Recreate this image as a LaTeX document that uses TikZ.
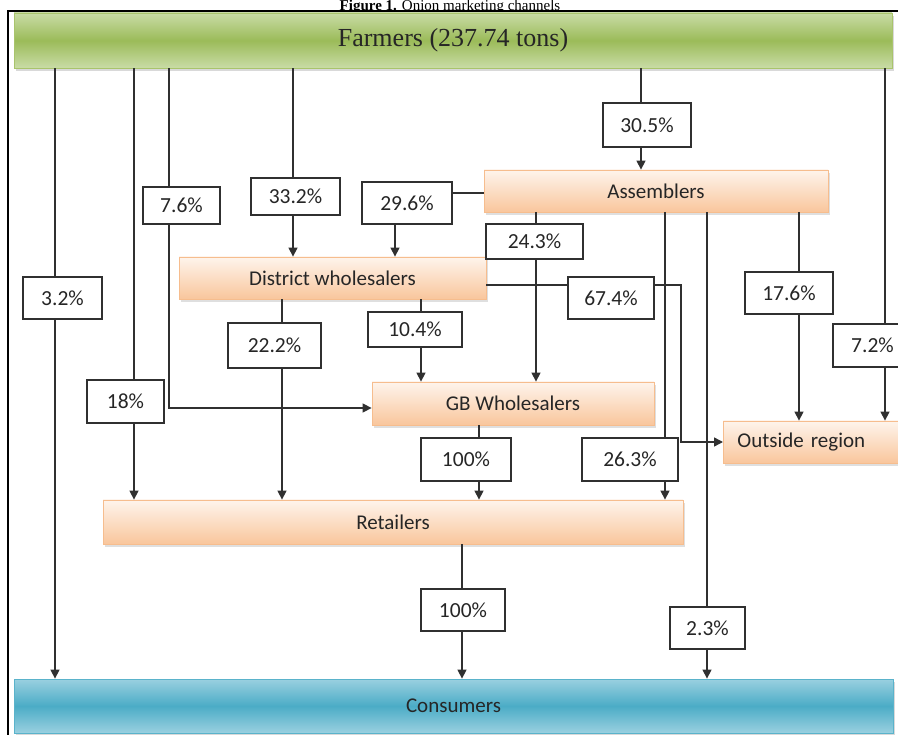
\documentclass[tikz,border=0pt]{standalone}
\usepackage{fontspec}
\setmainfont{Carlito}
\newfontfamily\serifx{Liberation Serif}
\usetikzlibrary{arrows.meta,shadows}
\definecolor{lineC}{HTML}{303030}
\definecolor{orTop}{HTML}{FEF4EC}
\definecolor{orBot}{HTML}{F9C69C}
\definecolor{orBrd}{HTML}{F6BD8E}
\definecolor{grMid}{HTML}{9BBB59}
\definecolor{grEdge}{HTML}{C9DCA6}
\definecolor{grBrd}{HTML}{A9C46C}
\definecolor{blMid}{HTML}{4BACC6}
\definecolor{blEdge}{HTML}{9AD0E0}
\definecolor{blBrd}{HTML}{5AB3CB}
\definecolor{txt}{HTML}{262626}
\tikzset{
  pct/.style={draw=lineC, line width=1.4pt, fill=white, inner sep=0pt,
    font=\fontsize{21.5}{24}\selectfont, text=txt},
  stage/.style={draw=orBrd, line width=0.8pt, top color=orTop, bottom color=orBot,
    inner sep=0pt, font=\fontsize{21}{24}\selectfont, text=txt,
    drop shadow={shadow xshift=2pt, shadow yshift=-3pt, opacity=0.25}},
  conn/.style={draw=lineC, line width=1.4pt},
  arr/.style={conn, -{Triangle[width=9pt,length=9pt]}},
}
\begin{document}
\begin{tikzpicture}[x=1pt,y=-1pt]
\useasboundingbox (0,0) rectangle (898,735);
% frame and caption
\draw[line width=2pt, black] (8,740) -- (8,11.5) -- (900,11.5);
\node[font=\serifx\fontsize{15}{17}\selectfont, anchor=base, text=black, inner sep=0pt] (cap) at (450,10.5) {\textbf{Figure 1.} Onion marketing channels};

% main stages
\node[draw=grBrd, line width=0.8pt, top color=grEdge, bottom color=grEdge, middle color=grMid,
      minimum width=878pt, minimum height=55pt, inner sep=0pt,
      drop shadow={shadow xshift=2pt, shadow yshift=-3pt, opacity=0.3},
      font=\serifx\fontsize{26}{30}\selectfont, text=txt] (F) at (453,40.5) {Farmers (237.74 tons)};
\node[stage, minimum width=344pt, minimum height=42pt] (A) at (656,191) {Assemblers};
\node[stage, minimum width=307pt, minimum height=42pt] (D) at (332.5,278) {District wholesalers};
\node[stage, minimum width=282pt, minimum height=43pt] (G) at (513,403.5) {GB Wholesalers};
\node[stage, anchor=west, text width=170pt, align=left, inner xsep=14pt, minimum height=42pt] (O) at (723,442) {Outside region};
\node[stage, minimum width=580pt, minimum height=44pt] (R) at (393,522) {Retailers};
\node[draw=blBrd, line width=0.8pt, top color=blEdge, bottom color=blEdge, middle color=blMid,
      minimum width=879pt, minimum height=54pt, inner sep=0pt,
      drop shadow={shadow xshift=2pt, shadow yshift=-3pt, opacity=0.3},
      font=\fontsize{21}{24}\selectfont, text=txt] (C) at (453.5,706) {Consumers};

% percentage boxes
\node[pct, minimum width=79pt, minimum height=42pt] (l32) at (62.5,298) {3.2\%};
\node[pct, minimum width=77pt, minimum height=43pt] (l18) at (125.5,401.5) {18\%};
\node[pct, minimum width=77pt, minimum height=37pt] (l76) at (181.5,205.5) {7.6\%};
\node[pct, minimum width=89pt, minimum height=37pt] (l332) at (295.5,196.5) {33.2\%};
\node[pct, minimum width=88pt, minimum height=44pt] (l305) at (647,125) {30.5\%};
\node[pct, minimum width=79pt, minimum height=43pt] (l72) at (872.5,345.5) {7.2\%};
\node[pct, minimum width=90pt, minimum height=42pt] (l296) at (407,203) {29.6\%};
\node[pct, minimum width=97pt, minimum height=35pt] (l243) at (534.5,241.5) {24.3\%};
\node[pct, minimum width=96pt, minimum height=43pt] (l263) at (630,459.5) {26.3\%};
\node[pct, minimum width=75pt, minimum height=42pt] (l23) at (707.5,628) {2.3\%};
\node[pct, minimum width=88pt, minimum height=42pt] (l176) at (789,293) {17.6\%};
\node[pct, minimum width=86pt, minimum height=42pt] (l674) at (611,298) {67.4\%};
\node[pct, minimum width=93pt, minimum height=45pt] (l222) at (274.5,345.5) {22.2\%};
\node[pct, minimum width=94pt, minimum height=35pt] (l104) at (415,329.5) {10.4\%};
\node[pct, minimum width=90pt, minimum height=43pt] (l100a) at (466,459.5) {100\%};
\node[pct, minimum width=84pt, minimum height=42pt] (l100b) at (463,610) {100\%};

% line positions
\coordinate (x55) at (55,0);
\coordinate (x134) at (134,0);
\coordinate (x169) at (169,0);
\coordinate (x293) at (293,0);
\coordinate (x641) at (641,0);
\coordinate (x885) at (885,0);
\coordinate (x395) at (395,0);
\coordinate (x536) at (536,0);
\coordinate (x665) at (665,0);
\coordinate (x707) at (707,0);
\coordinate (x799) at (799,0);
\coordinate (x282) at (282,0);
\coordinate (x421) at (421,0);
\coordinate (x479) at (479,0);
\coordinate (x462) at (462,0);
\coordinate (h193) at (0,193);
\coordinate (h285) at (0,285);
\coordinate (k76) at (169,408);
\coordinate (k1) at (681,285);
\coordinate (k2) at (681,442);

% farmers
\draw[conn] (F.south -| x55) -- (l32.north -| x55);
\draw[arr] (l32.south -| x55) -- (C.north -| x55);
\draw[conn] (F.south -| x134) -- (l18.north -| x134);
\draw[arr] (l18.south -| x134) -- (R.north -| x134);
\draw[conn] (F.south -| x169) -- (l76.north -| x169);
\draw[arr] (l76.south -| x169) -- (k76) -- (G.west |- k76);
\draw[conn] (F.south -| x293) -- (l332.north -| x293);
\draw[arr] (l332.south -| x293) -- (D.north -| x293);
\draw[conn] (F.south -| x641) -- (l305.north -| x641);
\draw[arr] (l305.south -| x641) -- (A.north -| x641);
\draw[conn] (F.south -| x885) -- (l72.north -| x885);
\draw[arr] (l72.south -| x885) -- (O.north -| x885);

% assemblers
\draw[conn] (A.west |- h193) -- (l296.east |- h193);
\draw[arr] (l296.south -| x395) -- (D.north -| x395);
\draw[conn] (A.south -| x536) -- (l243.north -| x536);
\draw[arr] (l243.south -| x536) -- (G.north -| x536);
\draw[conn] (A.south -| x665) -- (l263.north -| x665);
\draw[arr] (l263.south -| x665) -- (R.north -| x665);
\draw[conn] (A.south -| x707) -- (l23.north -| x707);
\draw[arr] (l23.south -| x707) -- (C.north -| x707);
\draw[conn] (A.south -| x799) -- (l176.north -| x799);
\draw[arr] (l176.south -| x799) -- (O.north -| x799);

% district wholesalers
\draw[conn] (D.east |- h285) -- (l674.west |- h285);
\draw[arr] (l674.east |- h285) -- (k1) -- (k2) -- (O.west);
\draw[conn] (D.south -| x282) -- (l222.north -| x282);
\draw[arr] (l222.south -| x282) -- (R.north -| x282);
\draw[conn] (D.south -| x421) -- (l104.north -| x421);
\draw[arr] (l104.south -| x421) -- (G.north -| x421);

% GB wholesalers and retailers
\draw[conn] (G.south -| x479) -- (l100a.north -| x479);
\draw[arr] (l100a.south -| x479) -- (R.north -| x479);
\draw[conn] (R.south -| x462) -- (l100b.north -| x462);
\draw[arr] (l100b.south -| x462) -- (C.north -| x462);
\end{tikzpicture}
\end{document}
